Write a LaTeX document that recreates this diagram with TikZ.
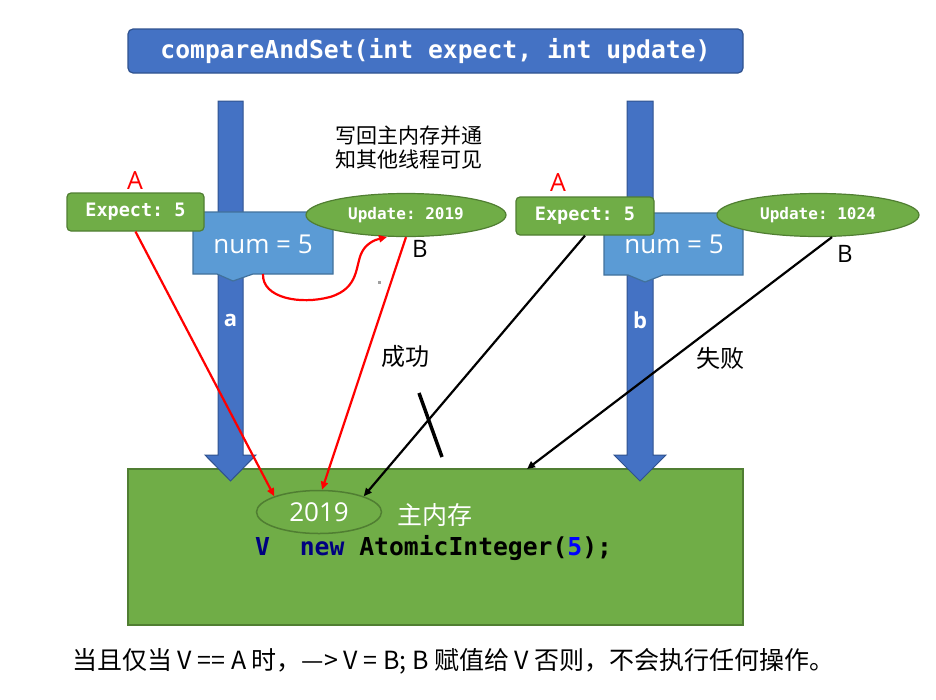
\documentclass[tikz,border=0pt]{standalone}
\usepackage{fontspec}
\setmainfont{Open Sans}
\setmonofont{DejaVu Sans Mono}
\newfontfamily\cjk{Noto Sans CJK SC}
\usetikzlibrary{arrows.meta,shapes.geometric,calc}
\definecolor{tblue}{HTML}{4472C4}
\definecolor{tblueb}{HTML}{2F528F}
\definecolor{nblue}{HTML}{5B9BD5}
\definecolor{nblueb}{HTML}{41719C}
\definecolor{grn}{HTML}{70AD47}
\definecolor{grnb}{HTML}{507E32}
\definecolor{navy}{HTML}{000080}
\definecolor{cblue}{HTML}{0000FF}
\definecolor{dotgray}{HTML}{A0A0A0}
\tikzset{
  titlebox/.style={draw=tblueb, fill=tblue, line width=1.2pt, rounded corners=5pt, text=white,
    font=\ttfamily\bfseries\fontsize{24.7}{27}\selectfont, inner sep=0pt},
  shaft/.style={draw=tblueb, fill=tblue, line width=1pt},
  numbox/.style={draw=nblueb, fill=nblue, line width=1.2pt},
  numtext/.style={text=white, font=\fontsize{26}{30}\selectfont, inner sep=0pt},
  expbox/.style={draw=grnb, fill=grn, line width=1.2pt, rounded corners=4pt, text=white,
    font=\ttfamily\bfseries\fontsize{18.5}{20}\selectfont, minimum height=38pt, inner sep=0pt},
  updell/.style={ellipse, draw=grnb, fill=grn, line width=1.2pt, text=white,
    font=\ttfamily\bfseries\fontsize{16}{18}\selectfont, minimum width=200pt, minimum height=43pt, inner sep=0pt},
  membox/.style={draw=grnb, fill=grn, line width=1.5pt, inner sep=0pt},
  redlbl/.style={text=red, font=\fontsize{25}{28}\selectfont, inner sep=0pt},
  blklbl/.style={text=black, font=\fontsize{24}{27}\selectfont, inner sep=0pt},
  shaftlbl/.style={text=white, font=\bfseries\fontsize{22}{24}\selectfont, inner sep=0pt},
  cjklbl/.style={font=\cjk\fontsize{21}{24}\selectfont, inner sep=0pt},
  redarr/.style={draw=red, line width=2.2pt, -{Triangle[length=8pt,width=7pt]}},
  blkarr/.style={draw=black, line width=2.2pt, -{Triangle[length=8pt,width=7pt]}},
}
\begin{document}
\begin{tikzpicture}[x=1pt,y=-1pt]
\useasboundingbox (0,0) rectangle (936,699);

% title
\node[titlebox, minimum width=615pt, minimum height=44pt] (title) at (435.5,51) {compareAndSet(int expect, int update)};

% main memory
\node[membox, minimum width=615pt, minimum height=156pt] (mainmem) at (435.5,547) {};

% blue thread arrows
\draw[shaft] (218,101) -- (243,101) -- (243,455) -- (256,455) -- (230.5,481) -- (205,455) -- (218,455) -- cycle;
\draw[shaft] (627,101) -- (653,101) -- (653,455) -- (666,455) -- (640,481) -- (614,455) -- (627,455) -- cycle;
\node[shaftlbl] (la) at (230.5,320) {a};
\node[shaftlbl] (lb) at (640,320) {b};

% num callouts
\draw[numbox] (193,212) -- (333,212) -- (333,274) -- (253,274) -- (233,281) -- (217,274) -- (193,274) -- cycle;
\node[numtext] (numL) at (263,244) {num = 5};
\draw[numbox] (604,213) -- (743,213) -- (743,275) -- (663,275) -- (645,282) -- (628,275) -- (604,275) -- cycle;
\node[numtext] (numR) at (674,244) {num = 5};

% expect boxes
\node[expbox, minimum width=137pt] (expL) at (135.5,212) {Expect: 5};
\node[expbox, minimum width=138pt] (expR) at (585,216) {Expect: 5};
\node[redlbl] (AL) at (135,181) {A};
\node[redlbl] (AR) at (558,183) {A};

% update ellipses
\node[updell] (updL) at (406,215) {Update: 2019};
\node[updell, minimum width=202pt] (updR) at (818,215) {Update: 1024};
\node[blklbl] (BL) at (420,249) {B};
\node[blklbl] (BR) at (845,254) {B};

% note
\node[cjklbl, align=center] (note) at (409,147) {写回主内存并通\\知其他线程可见};

% memory contents
\node[ellipse, draw=grnb, fill=grn, line width=1.5pt, minimum width=125pt, minimum height=43pt, inner sep=0pt,
  text=white, font=\fontsize{26}{30}\selectfont] (mem) at (319,512) {2019};
\node[text=white, font=\cjk\fontsize{25}{28}\selectfont, inner sep=0pt] (zhu) at (435,515) {主内存};
\node[anchor=west, inner sep=0pt, font=\ttfamily\bfseries\fontsize{24.7}{27}\selectfont] (code) at (255,548)
  {{\color{navy}V}\ \ {\color{navy}new} AtomicInteger({\color{cblue}5});};

% connectors
\coordinate (m1) at (527,469);
\coordinate (c1) at (387,237);
\coordinate (s1) at ($(updR.south)+(14,0)$);
\draw[redarr] (expL.south) -- (mem.north west);
\draw[redarr] (updL.south) -- ($(mem.north)+(3,0)$);
\draw[blkarr] (expR.south) -- (mem.north east);
\draw[blkarr] (s1) -- (m1);
\draw[redarr] (263,274) .. controls (262,298) and (300,305) .. (330,297)
  .. controls (360,288) and (355,265) .. (362,252)
  .. controls (366,244) and (374,240) .. (c1);
\draw[black, line width=3.5pt] (419,393) -- (442,457);
\fill[dotgray] (377.5,280.5) rectangle (380.5,283.5);

\node[cjklbl, font=\cjk\fontsize{24}{27}\selectfont] (ok) at (405,356) {成功};
\node[cjklbl, font=\cjk\fontsize{24}{27}\selectfont] (fail) at (720,358) {失败};

% bottom caption
\node[cjklbl, font=\cjk\fontsize{25}{28}\selectfont] (cap) at (453.5,661) {当且仅当 V == A 时，—> V = B; B 赋值给 V 否则，不会执行任何操作。};
\end{tikzpicture}
\end{document}
